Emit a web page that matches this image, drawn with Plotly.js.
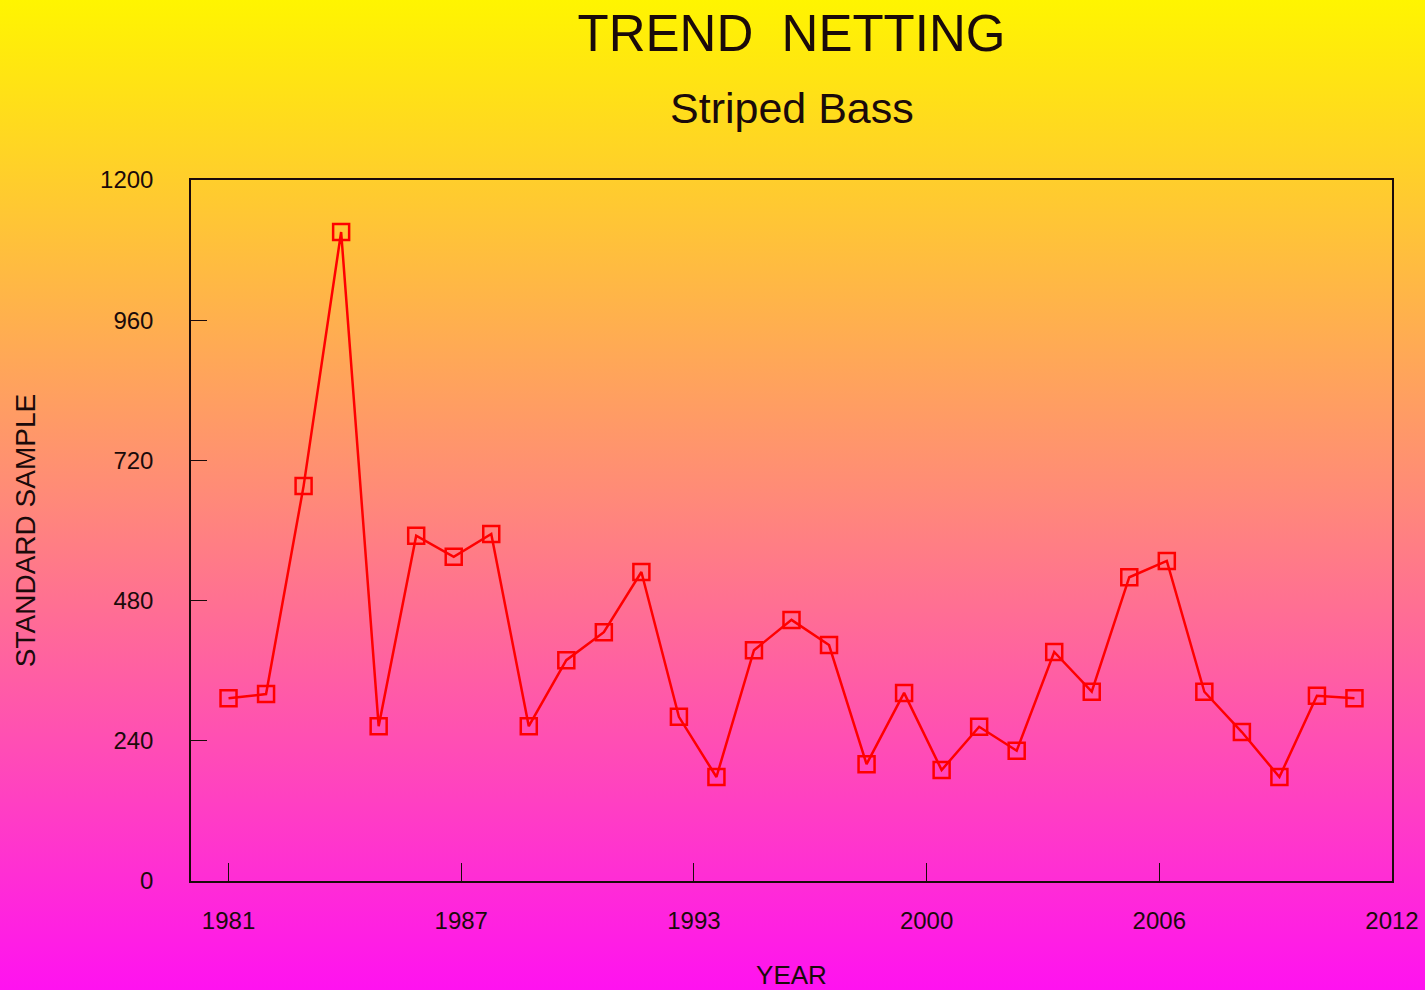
<!DOCTYPE html>
<html>
<head>
<meta charset="utf-8">
<script src="https://cdn.plot.ly/plotly-3.0.1.min.js"></script>
<style>
  html, body { margin: 0; padding: 0; width: 1425px; height: 990px; overflow: hidden; }
  body { background: linear-gradient(to bottom, #FFF500 0%, #FF8A78 50%, #FF12F0 100%); }
  #chart { width: 1425px; height: 990px; }
</style>
</head>
<body>
<div id="chart"></div>
<script>
const years = [1981,1982,1983,1984,1985,1986,1987,1988,1989,1990,1991,1992,1993,1994,1995,1996,1997,1998,1999,2000,2001,2002,2003,2004,2005,2006,2007,2008,2009,2010,2011];
const standardSample = [313,320,676,1111,265,591,555,594,265,378,426,529,281,178,395,447,404,200,322,190,264,223,392,324,520,548,324,255,178,317,313];
const xTickLabels = ['1981','1987','1993','2000','2006','2012'];
const xTickVals = [1981, 1987.2, 1993.4, 1999.6, 2005.8, 2012];
const yTickVals = [0,240,480,720,960,1200];

const ink = '#1a0a0a';
const font = 'Liberation Sans, Arial, sans-serif';

const trace = {
  x: years,
  y: standardSample,
  type: 'scatter',
  mode: 'lines+markers',
  line: { color: '#FF0000', width: 2.5 },
  marker: { symbol: 'square-open', size: 16, color: '#FF0000', line: { color: '#FF0000', width: 2.5 } },
  hoverinfo: 'x+y'
};

const layout = {
  width: 1425,
  height: 990,
  paper_bgcolor: 'rgba(0,0,0,0)',
  plot_bgcolor: 'rgba(0,0,0,0)',
  showlegend: false,
  margin: { l: 191, r: 33, t: 180, b: 109, pad: 0 },
  font: { family: font, color: ink },
  title: {
    text: 'TREND\u00A0\u00A0NETTING',
    font: { family: font, size: 51, color: ink },
    xref: 'paper', x: 0.5, xanchor: 'center',
    yref: 'container', y: 1 - 33/990, yanchor: 'middle'
  },
  annotations: [{
    text: 'Striped Bass',
    xref: 'paper', yref: 'paper',
    x: 0.5, y: 1 + (180 - 108) / 701,
    xanchor: 'center', yanchor: 'middle',
    showarrow: false,
    font: { family: font, size: 43, color: ink }
  }],
  xaxis: {
    range: [1980, 2012],
    tickmode: 'array',
    tickvals: xTickVals,
    ticktext: xTickLabels,
    ticks: 'inside',
    ticklen: 18,
    tickwidth: 1.2,
    tickcolor: ink,
    showline: true,
    linecolor: ink,
    linewidth: 1.5,
    mirror: true,
    showgrid: false,
    zeroline: false,
    tickfont: { family: font, size: 24, color: ink },
    ticklabelstandoff: 17,
    automargin: false,
    title: { text: 'YEAR', font: { family: font, size: 26, color: ink }, standoff: 38 }
  },
  yaxis: {
    range: [0, 1200],
    tickmode: 'array',
    tickvals: yTickVals,
    ticks: 'inside',
    ticklen: 16,
    tickwidth: 1.2,
    tickcolor: ink,
    showline: true,
    linecolor: ink,
    linewidth: 1.5,
    mirror: true,
    showgrid: false,
    zeroline: false,
    tickfont: { family: font, size: 24, color: ink },
    ticklabelstandoff: 31,
    automargin: false,
    title: { text: 'STANDARD SAMPLE', font: { family: font, size: 28, color: ink }, standoff: 56 }
  }
};

Plotly.newPlot('chart', [trace], layout, { displayModeBar: false, staticPlot: false });
</script>
</body>
</html>
